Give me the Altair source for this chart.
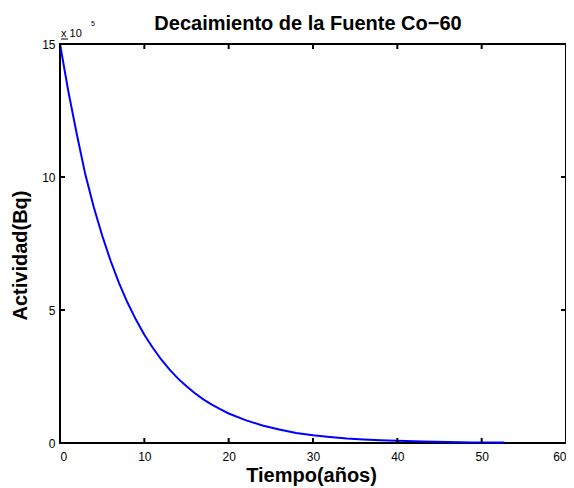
import altair as alt
import pandas as pd

# Values (activity in units of 10^5 Bq)
tiempo = [0, 1, 2, 3, 4, 5, 6, 7, 8, 9, 10, 11, 12, 13, 14, 15, 16, 17, 18, 19, 20,
          22, 24, 26, 28, 30, 32, 34, 36, 38, 40, 43, 46, 49, 52.7]
actividad = [15.0, 13.2, 11.6, 10.1, 8.87, 7.80, 6.85, 6.01, 5.28, 4.64, 4.07, 3.58, 3.14,
             2.76, 2.42, 2.13, 1.87, 1.64, 1.44, 1.27, 1.11, 0.86, 0.66, 0.51, 0.38,
             0.29, 0.23, 0.17, 0.13, 0.10, 0.08, 0.052, 0.035, 0.022, 0.015]
x_ticks = [0, 10, 20, 30, 40, 50, 60]
y_ticks = [0, 5, 10, 15]

W, H = 506, 399
FONT = "Liberation Sans"

df = pd.DataFrame({"t": tiempo, "a": actividad})
xt = pd.DataFrame({"v": x_ticks})
yt = pd.DataFrame({"v": y_ticks})

xs = alt.Scale(domain=[0, 60], nice=False)
ys = alt.Scale(domain=[0, 15], nice=False)

line = alt.Chart(df).mark_line(color="#0000ff", strokeWidth=2).encode(
    x=alt.X("t:Q", scale=xs,
            axis=alt.Axis(values=x_ticks, title="Tiempo(años)", ticks=False, domain=False,
                          grid=False, labelPadding=8, labelFontSize=12, labelFont=FONT,
                          labelColor="black", titleFont=FONT, titleFontSize=20,
                          titleFontWeight="bold", titleColor="black",
                          titleBaseline="alphabetic", titleX=W / 2 - 2, titleY=38)),
    y=alt.Y("a:Q", scale=ys,
            axis=alt.Axis(values=y_ticks, title="Actividad(Bq)", ticks=False, domain=False,
                          grid=False, labelPadding=5, labelFontSize=12, labelFont=FONT,
                          labelColor="black", titleFont=FONT, titleFontSize=20,
                          titleFontWeight="bold", titleColor="black",
                          titleBaseline="middle", titleX=-40, titleY=211)),
)

tick_style = dict(color="black", strokeWidth=2)
xb = alt.Chart(xt).mark_rule(**tick_style).encode(x=alt.X("v:Q", scale=xs), y=alt.value(H), y2=alt.value(H - 5))
xtop = alt.Chart(xt).mark_rule(**tick_style).encode(x=alt.X("v:Q", scale=xs), y=alt.value(0), y2=alt.value(5))
yl = alt.Chart(yt).mark_rule(**tick_style).encode(y=alt.Y("v:Q", scale=ys), x=alt.value(0), x2=alt.value(5))
yr = alt.Chart(yt).mark_rule(**tick_style).encode(y=alt.Y("v:Q", scale=ys), x=alt.value(W), x2=alt.value(W - 5))

one = alt.Data(values=[{"k": 1}])
title_txt = alt.Chart(one).mark_text(align="center", baseline="alphabetic", font=FONT,
                                     fontSize=20, fontWeight="bold", color="black").encode(
    x=alt.value(248), y=alt.value(-14), text=alt.value("Decaimiento de la Fuente Co\u221260"))
exp_txt = alt.Chart(one).mark_text(align="left", baseline="alphabetic", font=FONT, fontSize=11).encode(
    x=alt.value(1), y=alt.value(-7), text=alt.value("x 10"))
exp_sup = alt.Chart(one).mark_text(align="left", baseline="alphabetic", font=FONT, fontSize=7).encode(
    x=alt.value(31), y=alt.value(-18), text=alt.value("5"))
exp_ul = alt.Chart(one).mark_rule(color="black", strokeWidth=1).encode(
    x=alt.value(1), x2=alt.value(8), y=alt.value(-5))

chart = alt.layer(line, xb, xtop, yl, yr, title_txt, exp_txt, exp_sup, exp_ul).properties(
    width=W, height=H,
    autosize=alt.AutoSizeParams(type="none"),
    padding={"left": 52, "top": 36, "right": 0, "bottom": 44},
).configure_view(stroke="black", strokeWidth=2)

chart.save("out.html", embed_options={"renderer": "svg", "actions": False})
